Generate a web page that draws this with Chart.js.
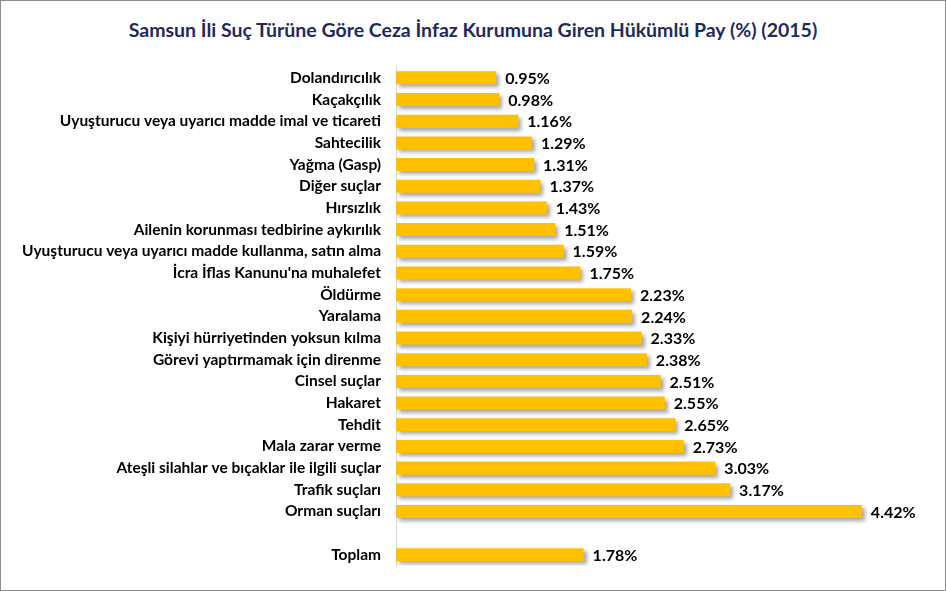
<!DOCTYPE html>
<html>
<head>
<meta charset="utf-8">
<script src="https://cdn.jsdelivr.net/npm/chart.js@4/dist/chart.umd.min.js"></script>
<style>
  html, body { margin: 0; padding: 0; background: #fff; }
  #wrap { position: relative; width: 944px; height: 589px; border: 1px solid #8c8c8c; }
  #title { position: absolute; left: 0; right: 0; top: 17px; text-align: center;
    font: bold 19.5px Lato, "Open Sans", sans-serif; color: #1f2a5c; }
  #box { position: absolute; left: 0; top: 0; width: 944px; height: 589px; }
</style>
</head>
<body>
<div id="wrap">
  <div id="title">Samsun İli Suç Türüne Göre Ceza İnfaz Kurumuna Giren Hükümlü Pay (%) (2015)</div>
  <div id="box"><canvas id="myChart"></canvas></div>
</div>
<script>
// categories (top to bottom), empty slot before Toplam
var categories = [
  'Dolandırıcılık', 'Kaçakçılık', 'Uyuşturucu veya uyarıcı madde imal ve ticareti',
  'Sahtecilik', 'Yağma (Gasp)', 'Diğer suçlar', 'Hırsızlık',
  'Ailenin korunması tedbirine aykırılık',
  'Uyuşturucu veya uyarıcı madde kullanma, satın alma',
  "İcra İflas Kanunu'na muhalefet", 'Öldürme', 'Yaralama',
  'Kişiyi hürriyetinden yoksun kılma', 'Görevi yaptırmamak için direnme',
  'Cinsel suçlar', 'Hakaret', 'Tehdit', 'Mala zarar verme',
  'Ateşli silahlar ve bıçaklar ile ilgili suçlar', 'Trafik suçları',
  'Orman suçları', '', 'Toplam'
];
// share values (%)
var shares = [0.95, 0.98, 1.16, 1.29, 1.31, 1.37, 1.43, 1.51, 1.59, 1.75,
  2.23, 2.24, 2.33, 2.38, 2.51, 2.55, 2.65, 2.73, 3.03, 3.17, 4.42, null, 1.78];

var fontFam = 'Lato, "Open Sans", sans-serif';

// drop shadow under bars
var barShadow = {
  id: 'barShadow',
  beforeDatasetsDraw: function (chart) {
    var c = chart.ctx;
    c.save();
    c.shadowColor = 'rgba(0,0,0,0.35)';
    c.shadowBlur = 4;
    c.shadowOffsetX = 3;
    c.shadowOffsetY = 3;
  },
  afterDatasetsDraw: function (chart) {
    chart.ctx.restore();
  }
};

// value labels at the end of each bar
var valueLabels = {
  id: 'valueLabels',
  afterDatasetsDraw: function (chart) {
    var c = chart.ctx;
    var meta = chart.getDatasetMeta(0);
    c.save();
    c.font = 'bold 16px ' + fontFam;
    c.fillStyle = '#000';
    c.textAlign = 'left';
    c.textBaseline = 'middle';
    meta.data.forEach(function (bar, i) {
      var v = shares[i];
      if (v === null) return;
      c.fillText(v.toFixed(2) + '%', bar.x + 9, bar.y + 1);
    });
    c.restore();
  }
};

var ctx = document.getElementById('myChart');
var myBarChart = new Chart(ctx, {
  type: 'bar',
  data: {
    labels: categories,
    datasets: [{
      data: shares,
      backgroundColor: '#ffc000',
      borderWidth: 0,
      barPercentage: 0.6,
      categoryPercentage: 1
    }]
  },
  options: {
    indexAxis: 'y',
    responsive: true,
    maintainAspectRatio: false,
    animation: false,
    layout: { padding: { left: 0, right: 22, top: 66, bottom: 21 } },
    plugins: {
      legend: { display: false },
      tooltip: { enabled: false }
    },
    scales: {
      x: {
        min: 0,
        max: 5,
        display: false
      },
      y: {
        afterFit: function (scale) { scale.width = 395; },
        grid: { display: false, drawTicks: false },
        border: { display: true, color: '#d9d9d9', width: 1 },
        ticks: {
          autoSkip: false,
          padding: 15,
          color: '#000',
          font: { family: fontFam, size: 15.5, weight: 'bold' }
        }
      }
    }
  },
  plugins: [barShadow, valueLabels]
});
</script>
</body>
</html>
